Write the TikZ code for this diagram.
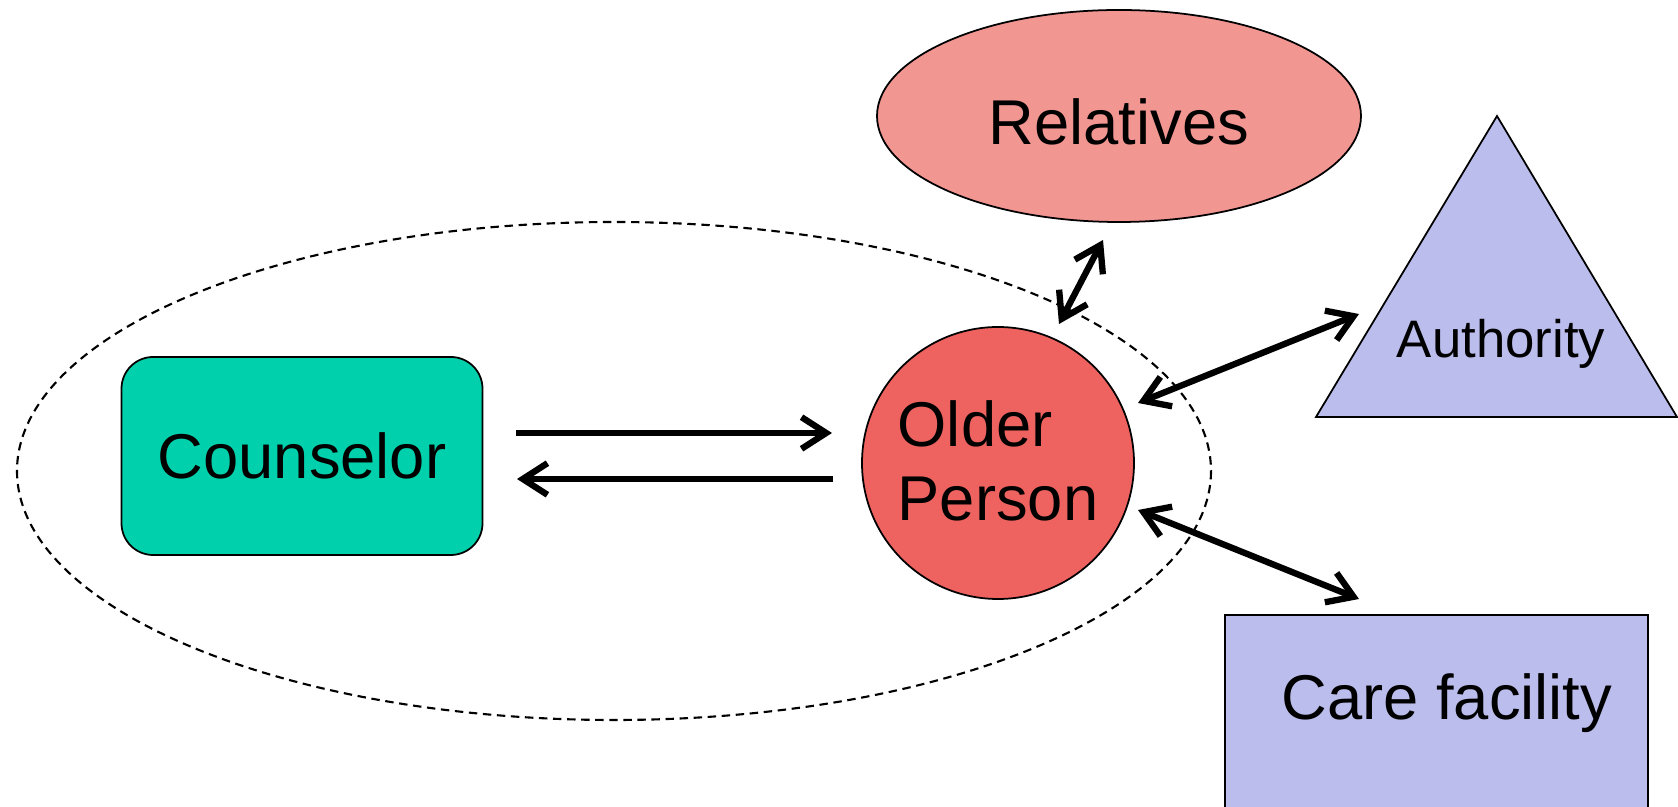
\documentclass[tikz,border=0pt]{standalone}
\usepackage{fontspec}
\setmainfont{Liberation Sans}
\usetikzlibrary{shapes.geometric,arrows.meta}
\definecolor{teal1}{RGB}{0,209,172}
\definecolor{redc}{RGB}{238,99,95}
\definecolor{pinkc}{RGB}{242,150,146}
\definecolor{lav}{RGB}{187,189,237}
\tikzset{
  shapeline/.style={draw=black, line width=0.5pt},
  tip/.style={},
  conn/.style={line width=1.8pt, line cap=round, {Straight Barb[length=7pt,width=9pt,line width=1.8pt]}-{Straight Barb[length=7pt,width=9pt,line width=1.8pt]}},
  oneway/.style={line width=1.8pt, -{Straight Barb[length=7pt,width=9pt,line width=1.8pt]}},
  lbl/.style={font=\fontsize{18}{21}\selectfont, inner sep=0pt}
}
\begin{document}
\begin{tikzpicture}[x=0.01cm, y=-0.01cm]
\useasboundingbox (0,0) rectangle (1678,807);
% dashed ellipse
\draw[line width=0.6pt, dash pattern=on 2.4pt off 1.6pt] (614,471) ellipse [x radius=597, y radius=249];
% Counselor
\node[shapeline, fill=teal1, rounded corners=9pt, minimum width=361*0.01cm, minimum height=198*0.01cm, lbl] (cou) at (302,456) {Counselor};
% Older person
\node[shapeline, fill=redc, circle, minimum size=272*0.01cm, inner sep=0pt] (op) at (998,463) {};
\node[lbl, align=left, anchor=west] (opt) at (897,461) {Older\\Person};
% Relatives
\node[shapeline, fill=pinkc, ellipse, minimum width=484*0.01cm, minimum height=212*0.01cm, inner sep=0pt] (rel) at (1119,116) {};
\node[lbl] (relt) at (1119,122) {Relatives};
% Authority triangle
\coordinate (ta) at (1497,116);
\coordinate (tl) at (1316,417);
\coordinate (tr) at (1677,417);
\draw[shapeline, fill=lav] (ta) -- (tl) -- (tr) -- cycle;
\node[inner sep=0pt, font=\fontsize{15}{18}\selectfont] (auth) at (1501,344) {Authority};
% Care facility
\draw[shapeline, fill=lav] (1225,615) rectangle (1648,840);
\node[lbl] (care) at (1447,703) {Care facility};
% connector end points
\coordinate (c1a) at (516,433);
\coordinate (c1b) at (832,433);
\coordinate (c2a) at (833,479);
\coordinate (c2b) at (517,479);
\coordinate (r1) at (1059,324);
\coordinate (r2) at (1103,240);
\coordinate (a1) at (1138,403);
\coordinate (a2) at (1359,314);
\coordinate (f1) at (1138,510);
\coordinate (f2) at (1359,599);
\draw[oneway] (c1a) -- (c1b);
\draw[oneway] (c2a) -- (c2b);
\draw[conn] (r1) -- (r2);
\draw[conn] (a1) -- (a2);
\draw[conn] (f1) -- (f2);
\end{tikzpicture}
\end{document}
